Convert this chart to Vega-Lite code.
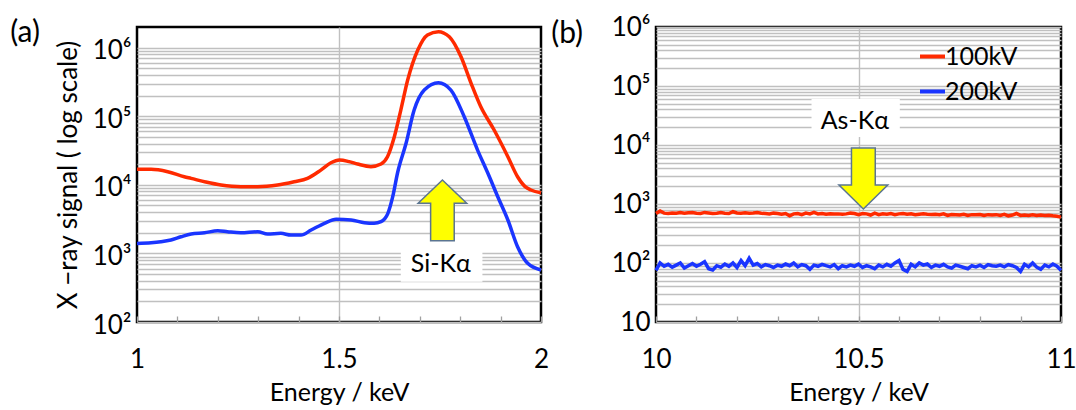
{
  "$schema": "https://vega.github.io/schema/vega-lite/v6.json",
  "background": "white",
  "padding": {"left": 8, "top": 12, "right": 5, "bottom": 0},
  "spacing": -1,
  "config": {
    "font": "Lato",
    "view": {"stroke": "#000", "strokeWidth": 2.5},
    "axis": {"labelFont": "Lato", "titleFont": "Lato", "labelFontSize": 26, "titleFontSize": 25, "titleFontWeight": "normal", "labelColor": "#000", "titleColor": "#000", "domain": false, "gridColor": "#c0c0c0", "gridWidth": 1.4},
    "title": {"font": "Lato", "fontSize": 30, "fontWeight": "normal", "color": "#000"}
  },
  "resolve": {"scale": {"color": "independent"}, "legend": {"color": "independent"}},
  "datasets": {
    "a": [
      {"energy": 1.0, "signal": 16800, "series": "100kV"},
      {"energy": 1.035, "signal": 16800, "series": "100kV"},
      {"energy": 1.076, "signal": 15500, "series": "100kV"},
      {"energy": 1.117, "signal": 13100, "series": "100kV"},
      {"energy": 1.134, "signal": 12400, "series": "100kV"},
      {"energy": 1.17, "signal": 11000, "series": "100kV"},
      {"energy": 1.208, "signal": 9930, "series": "100kV"},
      {"energy": 1.257, "signal": 9380, "series": "100kV"},
      {"energy": 1.299, "signal": 9380, "series": "100kV"},
      {"energy": 1.348, "signal": 9930, "series": "100kV"},
      {"energy": 1.389, "signal": 11100, "series": "100kV"},
      {"energy": 1.422, "signal": 12400, "series": "100kV"},
      {"energy": 1.455, "signal": 16400, "series": "100kV"},
      {"energy": 1.48, "signal": 21000, "series": "100kV"},
      {"energy": 1.501, "signal": 23000, "series": "100kV"},
      {"energy": 1.525, "signal": 21800, "series": "100kV"},
      {"energy": 1.546, "signal": 20100, "series": "100kV"},
      {"energy": 1.579, "signal": 18400, "series": "100kV"},
      {"energy": 1.604, "signal": 20100, "series": "100kV"},
      {"energy": 1.62, "signal": 25700, "series": "100kV"},
      {"energy": 1.637, "signal": 50300, "series": "100kV"},
      {"energy": 1.653, "signal": 123000, "series": "100kV"},
      {"energy": 1.67, "signal": 337000, "series": "100kV"},
      {"energy": 1.695, "signal": 923000, "series": "100kV"},
      {"energy": 1.719, "signal": 1530000, "series": "100kV"},
      {"energy": 1.746, "signal": 1710000, "series": "100kV"},
      {"energy": 1.773, "signal": 1440000, "series": "100kV"},
      {"energy": 1.802, "signal": 736000, "series": "100kV"},
      {"energy": 1.827, "signal": 301000, "series": "100kV"},
      {"energy": 1.851, "signal": 137000, "series": "100kV"},
      {"energy": 1.884, "signal": 63000, "series": "100kV"},
      {"energy": 1.918, "signal": 25700, "series": "100kV"},
      {"energy": 1.942, "signal": 13100, "series": "100kV"},
      {"energy": 1.96, "signal": 9500, "series": "100kV"},
      {"energy": 1.975, "signal": 8400, "series": "100kV"},
      {"energy": 2.0, "signal": 7680, "series": "100kV"},
      {"energy": 1.0, "signal": 1400, "series": "200kV"},
      {"energy": 1.035, "signal": 1430, "series": "200kV"},
      {"energy": 1.059, "signal": 1480, "series": "200kV"},
      {"energy": 1.084, "signal": 1570, "series": "200kV"},
      {"energy": 1.109, "signal": 1750, "series": "200kV"},
      {"energy": 1.134, "signal": 1920, "series": "200kV"},
      {"energy": 1.167, "signal": 2000, "series": "200kV"},
      {"energy": 1.2, "signal": 2140, "series": "200kV"},
      {"energy": 1.224, "signal": 2070, "series": "200kV"},
      {"energy": 1.257, "signal": 2000, "series": "200kV"},
      {"energy": 1.299, "signal": 2070, "series": "200kV"},
      {"energy": 1.323, "signal": 1920, "series": "200kV"},
      {"energy": 1.356, "signal": 1960, "series": "200kV"},
      {"energy": 1.381, "signal": 1850, "series": "200kV"},
      {"energy": 1.406, "signal": 1850, "series": "200kV"},
      {"energy": 1.431, "signal": 2190, "series": "200kV"},
      {"energy": 1.464, "signal": 2750, "series": "200kV"},
      {"energy": 1.493, "signal": 3140, "series": "200kV"},
      {"energy": 1.53, "signal": 3070, "series": "200kV"},
      {"energy": 1.563, "signal": 2800, "series": "200kV"},
      {"energy": 1.587, "signal": 2750, "series": "200kV"},
      {"energy": 1.604, "signal": 2900, "series": "200kV"},
      {"energy": 1.621, "signal": 3840, "series": "200kV"},
      {"energy": 1.633, "signal": 6710, "series": "200kV"},
      {"energy": 1.645, "signal": 15000, "series": "200kV"},
      {"energy": 1.666, "signal": 40300, "series": "200kV"},
      {"energy": 1.686, "signal": 123000, "series": "200kV"},
      {"energy": 1.711, "signal": 241000, "series": "200kV"},
      {"energy": 1.746, "signal": 308000, "series": "200kV"},
      {"energy": 1.777, "signal": 241000, "series": "200kV"},
      {"energy": 1.81, "signal": 98400, "series": "200kV"},
      {"energy": 1.843, "signal": 32100, "series": "200kV"},
      {"energy": 1.868, "signal": 15000, "series": "200kV"},
      {"energy": 1.893, "signal": 6710, "series": "200kV"},
      {"energy": 1.918, "signal": 3070, "series": "200kV"},
      {"energy": 1.942, "signal": 1250, "series": "200kV"},
      {"energy": 1.967, "signal": 716, "series": "200kV"},
      {"energy": 2.0, "signal": 573, "series": "200kV"}
    ],
    "b100": [
      {"energy":10.00,"signal":690},{"energy":10.01,"signal":760},{"energy":10.02,"signal":700},{"energy":10.03,"signal":690},{"energy":10.04,"signal":705},
      {"energy":10.05,"signal":700},{"energy":10.06,"signal":715},{"energy":10.07,"signal":700},{"energy":10.08,"signal":710},{"energy":10.09,"signal":720},
      {"energy":10.10,"signal":700},{"energy":10.11,"signal":690},{"energy":10.12,"signal":720},{"energy":10.13,"signal":705},{"energy":10.14,"signal":690},
      {"energy":10.15,"signal":700},{"energy":10.16,"signal":715},{"energy":10.17,"signal":700},{"energy":10.18,"signal":690},{"energy":10.19,"signal":740},
      {"energy":10.20,"signal":705},{"energy":10.21,"signal":700},{"energy":10.22,"signal":710},{"energy":10.23,"signal":700},{"energy":10.24,"signal":705},
      {"energy":10.25,"signal":720},{"energy":10.26,"signal":700},{"energy":10.27,"signal":690},{"energy":10.28,"signal":680},{"energy":10.29,"signal":700},
      {"energy":10.30,"signal":690},{"energy":10.31,"signal":670},{"energy":10.32,"signal":690},{"energy":10.33,"signal":630},{"energy":10.34,"signal":680},
      {"energy":10.35,"signal":690},{"energy":10.36,"signal":660},{"energy":10.37,"signal":700},{"energy":10.38,"signal":680},{"energy":10.39,"signal":720},
      {"energy":10.40,"signal":680},{"energy":10.41,"signal":690},{"energy":10.42,"signal":670},{"energy":10.43,"signal":685},{"energy":10.44,"signal":675},
      {"energy":10.45,"signal":680},{"energy":10.46,"signal":670},{"energy":10.47,"signal":680},{"energy":10.48,"signal":700},{"energy":10.49,"signal":690},
      {"energy":10.50,"signal":660},{"energy":10.51,"signal":690},{"energy":10.52,"signal":680},{"energy":10.53,"signal":650},{"energy":10.54,"signal":700},
      {"energy":10.55,"signal":660},{"energy":10.56,"signal":680},{"energy":10.57,"signal":670},{"energy":10.58,"signal":690},{"energy":10.59,"signal":660},
      {"energy":10.60,"signal":680},{"energy":10.61,"signal":690},{"energy":10.62,"signal":670},{"energy":10.63,"signal":680},{"energy":10.64,"signal":660},
      {"energy":10.65,"signal":670},{"energy":10.66,"signal":680},{"energy":10.67,"signal":670},{"energy":10.68,"signal":665},{"energy":10.69,"signal":670},
      {"energy":10.70,"signal":660},{"energy":10.71,"signal":680},{"energy":10.72,"signal":640},{"energy":10.73,"signal":665},{"energy":10.74,"signal":660},
      {"energy":10.75,"signal":650},{"energy":10.76,"signal":670},{"energy":10.77,"signal":640},{"energy":10.78,"signal":660},{"energy":10.79,"signal":655},
      {"energy":10.80,"signal":665},{"energy":10.81,"signal":640},{"energy":10.82,"signal":660},{"energy":10.83,"signal":650},{"energy":10.84,"signal":660},
      {"energy":10.85,"signal":640},{"energy":10.86,"signal":670},{"energy":10.87,"signal":630},{"energy":10.88,"signal":650},{"energy":10.89,"signal":690},
      {"energy":10.90,"signal":640},{"energy":10.91,"signal":650},{"energy":10.92,"signal":640},{"energy":10.93,"signal":655},{"energy":10.94,"signal":640},
      {"energy":10.95,"signal":650},{"energy":10.96,"signal":640},{"energy":10.97,"signal":645},{"energy":10.98,"signal":630},{"energy":10.99,"signal":620},
      {"energy":11.00,"signal":600}
    ],
    "b200": [
      {"energy":10.00,"signal":75},{"energy":10.01,"signal":100},{"energy":10.02,"signal":88},{"energy":10.03,"signal":95},{"energy":10.04,"signal":85},
      {"energy":10.05,"signal":92},{"energy":10.06,"signal":100},{"energy":10.07,"signal":82},{"energy":10.08,"signal":90},{"energy":10.09,"signal":98},
      {"energy":10.10,"signal":88},{"energy":10.11,"signal":95},{"energy":10.12,"signal":105},{"energy":10.13,"signal":80},{"energy":10.14,"signal":76},
      {"energy":10.15,"signal":90},{"energy":10.16,"signal":85},{"energy":10.17,"signal":96},{"energy":10.18,"signal":88},{"energy":10.19,"signal":100},
      {"energy":10.20,"signal":84},{"energy":10.21,"signal":110},{"energy":10.22,"signal":90},{"energy":10.23,"signal":120},{"energy":10.24,"signal":92},
      {"energy":10.25,"signal":98},{"energy":10.26,"signal":86},{"energy":10.27,"signal":94},{"energy":10.28,"signal":90},{"energy":10.29,"signal":84},
      {"energy":10.30,"signal":92},{"energy":10.31,"signal":88},{"energy":10.32,"signal":96},{"energy":10.33,"signal":90},{"energy":10.34,"signal":100},
      {"energy":10.35,"signal":86},{"energy":10.36,"signal":94},{"energy":10.37,"signal":90},{"energy":10.38,"signal":78},{"energy":10.39,"signal":92},
      {"energy":10.40,"signal":88},{"energy":10.41,"signal":95},{"energy":10.42,"signal":90},{"energy":10.43,"signal":86},{"energy":10.44,"signal":94},
      {"energy":10.45,"signal":80},{"energy":10.46,"signal":90},{"energy":10.47,"signal":86},{"energy":10.48,"signal":92},{"energy":10.49,"signal":88},
      {"energy":10.50,"signal":96},{"energy":10.51,"signal":84},{"energy":10.52,"signal":90},{"energy":10.53,"signal":86},{"energy":10.54,"signal":80},
      {"energy":10.55,"signal":92},{"energy":10.56,"signal":86},{"energy":10.57,"signal":95},{"energy":10.58,"signal":88},{"energy":10.59,"signal":100},
      {"energy":10.60,"signal":110},{"energy":10.61,"signal":78},{"energy":10.62,"signal":72},{"energy":10.63,"signal":95},{"energy":10.64,"signal":86},
      {"energy":10.65,"signal":100},{"energy":10.66,"signal":92},{"energy":10.67,"signal":96},{"energy":10.68,"signal":84},{"energy":10.69,"signal":92},
      {"energy":10.70,"signal":88},{"energy":10.71,"signal":95},{"energy":10.72,"signal":86},{"energy":10.73,"signal":82},{"energy":10.74,"signal":92},
      {"energy":10.75,"signal":88},{"energy":10.76,"signal":84},{"energy":10.77,"signal":80},{"energy":10.78,"signal":90},{"energy":10.79,"signal":86},
      {"energy":10.80,"signal":92},{"energy":10.81,"signal":84},{"energy":10.82,"signal":94},{"energy":10.83,"signal":90},{"energy":10.84,"signal":88},
      {"energy":10.85,"signal":92},{"energy":10.86,"signal":86},{"energy":10.87,"signal":94},{"energy":10.88,"signal":90},{"energy":10.89,"signal":84},
      {"energy":10.90,"signal":72},{"energy":10.91,"signal":95},{"energy":10.92,"signal":86},{"energy":10.93,"signal":100},{"energy":10.94,"signal":85},
      {"energy":10.95,"signal":78},{"energy":10.96,"signal":92},{"energy":10.97,"signal":86},{"energy":10.98,"signal":96},{"energy":10.99,"signal":88},
      {"energy":11.00,"signal":75}
    ]
  },
  "hconcat": [
    {
      "width": 404,
      "height": 295,
      "title": {"text": "(a)", "anchor": "start", "frame": "bounds", "dx": -45, "dy": 23, "offset": 0},
      "layer": [
        {
          "data": {"values": [{}]},
          "mark": {"type": "rect", "fill": "white"},
          "encoding": {
            "x": {"datum": 1.653, "type": "quantitative", "scale": {"domain": [1, 2], "nice": false, "zero": false}},
            "x2": {"datum": 1.855},
            "y": {"datum": 386, "type": "quantitative", "scale": {"type": "log", "domain": [100, 2000000], "nice": false}},
            "y2": {"datum": 1060}
          }
        },
        {
          "data": {"name": "a"},
          "mark": {"type": "line", "strokeWidth": 3.5, "interpolate": "monotone"},
          "encoding": {
            "x": {"field": "energy", "type": "quantitative", "scale": {"domain": [1, 2], "nice": false, "zero": false},
              "axis": {"title": "Energy / keV", "values": [1, 1.1, 1.2, 1.3, 1.4, 1.5, 1.6, 1.7, 1.8, 1.9, 2], "format": "~g",
                "labelExpr": "datum.value == 1 || datum.value == 1.5 || datum.value == 2 ? datum.label : ''",
                "labelOverlap": false, "labelFlush": false, "labelPadding": 30, "tickSize": -6, "tickColor": "#a0a0a0", "tickWidth": 1.3,
                "grid": true, "gridOpacity": {"condition": {"test": "datum.value == 1.5", "value": 1}, "value": 0}, "titlePadding": 8}},
            "y": {"field": "signal", "type": "quantitative", "scale": {"type": "log", "domain": [100, 2000000], "nice": false},
              "axis": {"title": "X −ray signal ( log scale)", "titleFontSize": 26, "values": [100,200,300,400,500,600,700,800,900,1000,2000,3000,4000,5000,6000,7000,8000,9000,10000,20000,30000,40000,50000,60000,70000,80000,90000,100000,200000,300000,400000,500000,600000,700000,800000,900000,1000000],
                "labelExpr": "datum.value == 100 ? '10²' : datum.value == 1000 ? '10³' : datum.value == 10000 ? '10⁴' : datum.value == 100000 ? '10⁵' : datum.value == 1000000 ? '10⁶' : ''",
                "labelOverlap": false, "ticks": false, "labelPadding": 6, "labelOffset": 3, "titlePadding": 11, "grid": true}},
            "color": {"field": "series", "type": "nominal", "scale": {"domain": ["100kV", "200kV"], "range": ["#ff2a00", "#1a35ff"]}, "legend": null}
          }
        },
        {
          "data": {"values": [{}]},
          "mark": {"type": "text", "fontSize": 25, "font": "Lato", "color": "#000", "align": "center", "baseline": "middle", "text": "Si-Kα"},
          "encoding": {
            "x": {"datum": 1.752, "type": "quantitative"},
            "y": {"datum": 693, "type": "quantitative"}
          }
        },
        {
          "data": {"values": [{}]},
          "mark": {"type": "point", "shape": "M0,-1L0.8,-0.232L0.389,-0.232L0.389,1L-0.389,1L-0.389,-0.232L-0.8,-0.232Z", "size": 3684, "filled": true, "fill": "#ffff00", "stroke": "#5b7591", "strokeWidth": 1.5, "opacity": 1},
          "encoding": {
            "x": {"datum": 1.756, "type": "quantitative"},
            "y": {"datum": 4250, "type": "quantitative"}
          }
        }
      ]
    },
    {
      "width": 405,
      "height": 295,
      "title": {"text": "(b)", "anchor": "start", "frame": "bounds", "dx": -60, "dy": 35, "offset": 0},
      "layer": [
        {
          "data": {"values": [{}]},
          "mark": {"type": "rect", "fill": "white"},
          "encoding": {
            "x": {"datum": 10.384, "type": "quantitative", "scale": {"domain": [10, 11], "nice": false, "zero": false}},
            "x2": {"datum": 10.602},
            "y": {"datum": 13700, "type": "quantitative", "scale": {"type": "log", "domain": [10, 1000000], "nice": false}},
            "y2": {"datum": 60300}
          }
        },
        {
          "data": {"name": "b100"},
          "mark": {"type": "line", "strokeWidth": 3.5},
          "encoding": {
            "x": {"field": "energy", "type": "quantitative", "scale": {"domain": [10, 11], "nice": false, "zero": false},
              "axis": {"title": "Energy / keV", "values": [10, 10.1, 10.2, 10.3, 10.4, 10.5, 10.6, 10.7, 10.8, 10.9, 11], "format": "~g",
                "labelExpr": "datum.value == 10 || datum.value == 10.5 || datum.value == 11 ? datum.label : ''",
                "labelOverlap": false, "labelFlush": false, "labelPadding": 30, "tickSize": -6, "tickColor": "#a0a0a0", "tickWidth": 1.3,
                "grid": true, "gridOpacity": {"condition": {"test": "datum.value == 10.5", "value": 1}, "value": 0}, "titlePadding": 8}},
            "y": {"field": "signal", "type": "quantitative", "scale": {"type": "log", "domain": [10, 1000000], "nice": false},
              "axis": {"title": null, "values": [10,20,30,40,50,60,70,80,90,100,200,300,400,500,600,700,800,900,1000,2000,3000,4000,5000,6000,7000,8000,9000,10000,20000,30000,40000,50000,60000,70000,80000,90000,100000,200000,300000,400000,500000,600000,700000,800000,900000,1000000],
                "labelExpr": "datum.value == 10 ? '10' : datum.value == 100 ? '10²' : datum.value == 1000 ? '10³' : datum.value == 10000 ? '10⁴' : datum.value == 100000 ? '10⁵' : datum.value == 1000000 ? '10⁶' : ''",
                "labelOverlap": false, "ticks": false, "labelPadding": 6, "grid": true}},
            "color": {"datum": "100kV", "scale": {"domain": ["100kV", "200kV"], "range": ["#ff2a00", "#1a35ff"]},
              "legend": {"orient": "none", "legendX": 262, "legendY": 15, "title": null, "labelFontSize": 25, "labelFont": "Lato", "labelColor": "#000", "symbolType": "stroke", "symbolStrokeWidth": 4, "symbolSize": 625, "rowPadding": 7, "labelOffset": -2, "padding": 0}}
          }
        },
        {
          "data": {"name": "b200"},
          "mark": {"type": "line", "strokeWidth": 3.5},
          "encoding": {
            "x": {"field": "energy", "type": "quantitative"},
            "y": {"field": "signal", "type": "quantitative"},
            "color": {"datum": "200kV"}
          }
        },
        {
          "data": {"values": [{}]},
          "mark": {"type": "text", "fontSize": 25, "font": "Lato", "color": "#000", "align": "center", "baseline": "middle", "text": "As-Kα"},
          "encoding": {
            "x": {"datum": 10.491, "type": "quantitative"},
            "y": {"datum": 25500, "type": "quantitative"}
          }
        },
        {
          "data": {"values": [{}]},
          "mark": {"type": "point", "shape": "M0,1L0.8,0.213L0.39,0.213L0.39,-1L-0.39,-1L-0.39,0.213L-0.8,0.213Z", "size": 3721, "filled": true, "fill": "#ffff00", "stroke": "#5b7591", "strokeWidth": 1.5, "opacity": 1},
          "encoding": {
            "x": {"datum": 10.512, "type": "quantitative"},
            "y": {"datum": 2700, "type": "quantitative"}
          }
        }
      ]
    }
  ]
}
